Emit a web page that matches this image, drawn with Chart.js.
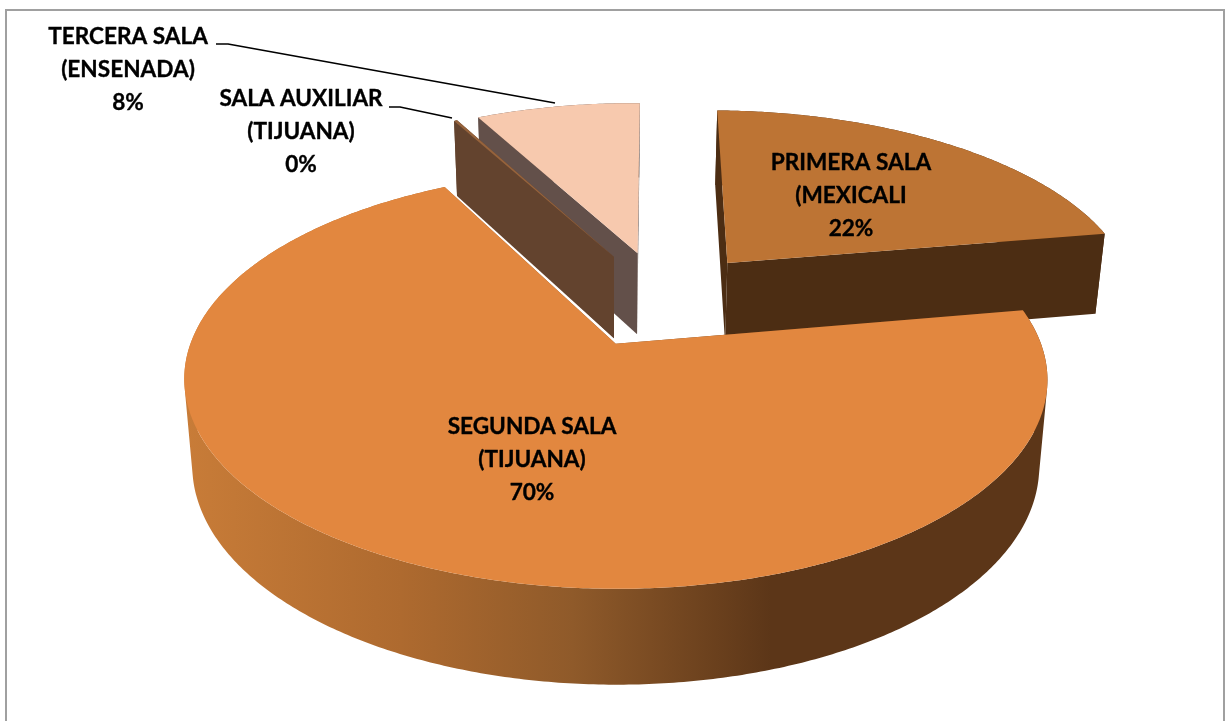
<!DOCTYPE html>
<html><head><meta charset="utf-8">
<style>html,body{margin:0;padding:0;background:#fff}canvas{display:block}</style>
<script src="https://cdn.jsdelivr.net/npm/chart.js@4/dist/chart.umd.min.js"></script>
</head><body><canvas id="c" width="1225" height="721"></canvas>
<script>
const categories = ["PRIMERA SALA|(MEXICALI", "SEGUNDA SALA|(TIJUANA)", "SALA AUXILIAR|(TIJUANA)", "TERCERA SALA|(ENSENADA)"];
const values = [22, 70.1, 0.15, 7.75];
const topColors = ["#BD7434", "#E2873F", "#96633C", "#F7C9AE"];
const wallColors = ["#4C2D13", null, "#63432E", "#63504A"];
const labelCenters = [[851,163],[532,427],[301,99],[128,37]];
const paintOrder = [0, 3, 2, 1];

// perspective: unit-disc coordinates to screen, for the top and the bottom face
const K = 0.17;
function project(u, v, bottom) {
  const w = 1 - K * v;
  return bottom ? [610 + 417 * u / w, 428 + 212 * v / w]
                : [610 + 425 * u / w, 343 + 203 * v / w];
}
const CU = 0.128, CV = -0.227;

const pie3d = {
  id: 'pie3d',
  beforeDatasetDraw(chart) {
    const ctx = chart.ctx;
    const arcs = chart.getDatasetMeta(0).data;
    const grad = ctx.createLinearGradient(185, 0, 1047, 0);
    grad.addColorStop(0, '#C87C38');
    grad.addColorStop(0.25, '#AE6A2F');
    grad.addColorStop(0.45, '#8F5A2A');
    grad.addColorStop(0.68, '#5C3618');
    grad.addColorStop(1, '#5C3618');
    for (const i of paintOrder) {
      const a = arcs[i], R = a.outerRadius;
      const off = a.options.offset / 4 / R;
      const mid = (a.startAngle + a.endAngle) / 2;
      const ox = CU + off * Math.cos(mid), oy = CV + off * Math.sin(mid);
      const pt = (ang, bottom) => project(ox + Math.cos(ang), oy + Math.sin(ang), bottom);
      const apex = (bottom) => project(ox, oy, bottom);
      const steps = Math.max(2, Math.ceil((a.endAngle - a.startAngle) / 0.01));
      const angAt = s => a.startAngle + (a.endAngle - a.startAngle) * s / steps;
      ctx.fillStyle = wallColors[i] || grad;
      const quad = (p, q, r, s) => {
        const poly = [p, q, r, s];
        let area = 0;
        poly.forEach((m, n) => { const t = poly[(n + 1) % 4]; area += m[0] * t[1] - t[0] * m[1]; });
        if (area < 0) poly.reverse();
        ctx.moveTo(...poly[0]); ctx.lineTo(...poly[1]); ctx.lineTo(...poly[2]); ctx.lineTo(...poly[3]); ctx.closePath();
      };
      ctx.beginPath();
      for (let s = 0; s < steps; s++) {
        quad(pt(angAt(s), false), pt(angAt(s + 1), false), pt(angAt(s + 1), true), pt(angAt(s), true));
      }
      ctx.fill();
      ctx.beginPath();
      quad(apex(false), pt(a.startAngle, false), pt(a.startAngle, true), apex(true));
      ctx.fill();
      ctx.beginPath();
      quad(apex(false), pt(a.endAngle, false), pt(a.endAngle, true), apex(true));
      ctx.fill();
      ctx.fillStyle = a.options.backgroundColor;
      ctx.beginPath(); ctx.moveTo(...apex(false));
      for (let s = 0; s <= steps; s++) ctx.lineTo(...pt(angAt(s), false));
      ctx.closePath(); ctx.fill();
    }
    return false;
  },
  afterDatasetsDraw(chart) {
    const ctx = chart.ctx;
    // frame
    ctx.strokeStyle = '#A0A0A0'; ctx.lineWidth = 2;
    ctx.beginPath(); ctx.moveTo(6, 730); ctx.lineTo(6, 10); ctx.lineTo(1224, 10); ctx.lineTo(1224, 730); ctx.stroke();
    // leader lines
    ctx.strokeStyle = '#000'; ctx.lineWidth = 1.6; ctx.lineJoin = 'round';
    ctx.beginPath(); ctx.moveTo(216, 44); ctx.lineTo(228, 44); ctx.lineTo(555, 103); ctx.stroke();
    ctx.beginPath(); ctx.moveTo(389, 107); ctx.lineTo(400, 107); ctx.lineTo(452, 118); ctx.stroke();
    // labels
    const total = values.reduce((s, v) => s + v, 0);
    ctx.fillStyle = '#000'; ctx.strokeStyle = '#000'; ctx.lineWidth = 0.35;
    ctx.font = 'bold 22.6px Lato'; ctx.textAlign = 'center'; ctx.textBaseline = 'middle';
    chart.data.labels.forEach((lab, i) => {
      const lines = lab.split('|').concat(Math.round(values[i] / total * 100) + '%');
      lines.forEach((t, j) => {
        ctx.fillText(t, labelCenters[i][0], labelCenters[i][1] + j * 33);
        ctx.strokeText(t, labelCenters[i][0], labelCenters[i][1] + j * 33);
      });
    });
  }
};

new Chart(document.getElementById('c'), {
  type: 'pie',
  data: { labels: categories, datasets: [{ data: values, backgroundColor: topColors, offset: 258, radius: 250, borderWidth: 0 }] },
  options: {
    responsive: false, animation: false, rotation: 1,
    plugins: { legend: { display: false }, tooltip: { enabled: false } }
  },
  plugins: [pie3d]
});
</script></body></html>
